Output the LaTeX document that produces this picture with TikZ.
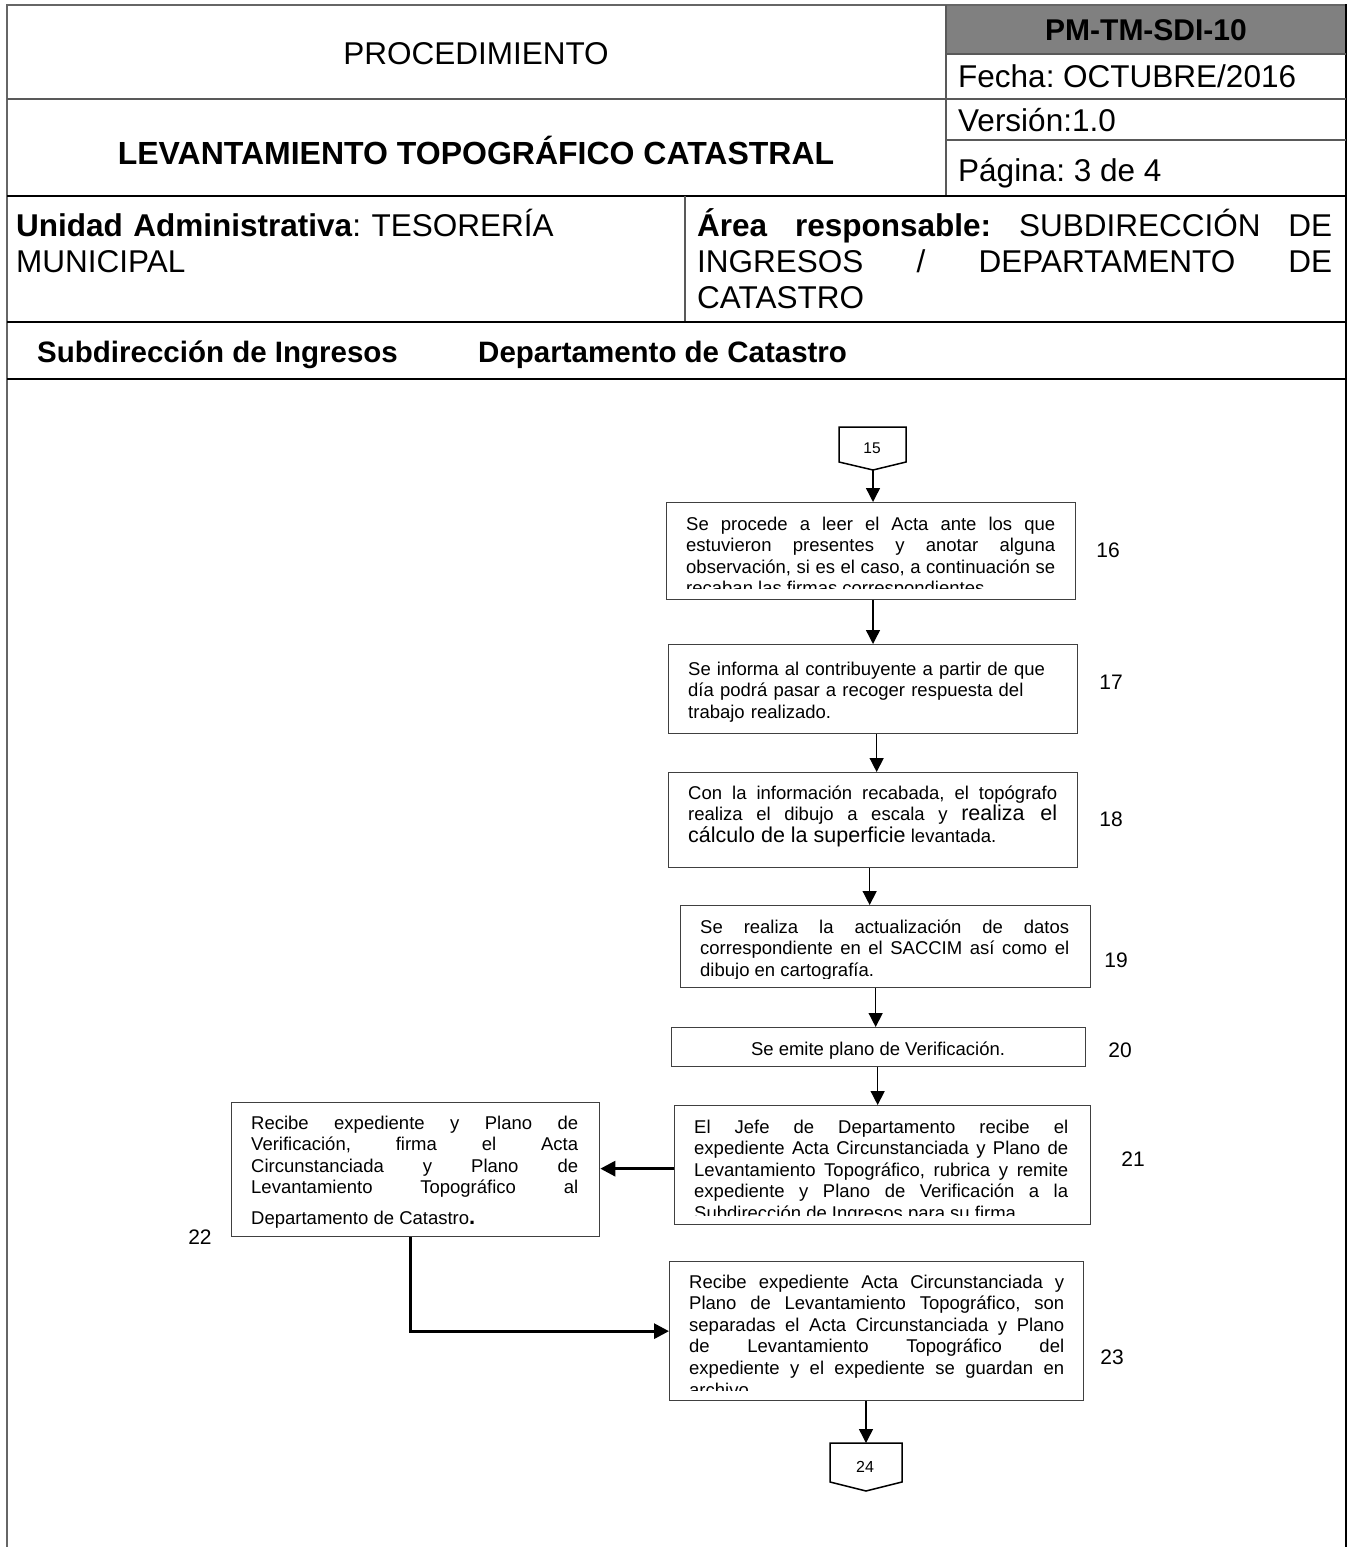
\documentclass[tikz,border=0pt]{standalone}
\usepackage{fontspec}
\setmainfont{Liberation Sans}
\usetikzlibrary{arrows.meta}
\begin{document}
\frenchspacing
\tolerance=9999 \hyphenpenalty=10000 \exhyphenpenalty=10000
\begin{tikzpicture}[x=1pt,y=-1pt,
  frame/.style={line width=2pt, draw=black!60},
  rulethick/.style={line width=2.6pt, draw=black},
  rulethin/.style={line width=1.6pt, draw=black!65},
  box/.style={draw=black!75, line width=1.3pt, inner sep=0pt, anchor=north west},
  body/.style={inner sep=0pt, anchor=base west, align=justify, font=\fontsize{18.5}{21.6}\selectfont},
  bodyl/.style={inner sep=0pt, anchor=base west, align=left, font=\fontsize{18.5}{21.6}\selectfont},
  lbl/.style={inner sep=0pt, font=\fontsize{21}{21}\selectfont},
  hdr/.style={inner sep=0pt, font=\fontsize{31.5}{36}\selectfont},
  conn/.style={draw=black, line width=1.5pt, line join=miter},
  ctext/.style={inner sep=0pt, font=\fontsize{15.5}{16}\selectfont},
  arr/.style={line width=1.4pt, -{Triangle[length=14pt,width=14pt]}},
  tarr/.style={line width=3pt, -{Triangle[length=15pt,width=15pt]}},
]
\useasboundingbox (0,0) rectangle (1349,1547);

% ---------- header frame ----------
\fill[black!50] (946,5) rectangle (1346,54);
\draw[frame] (7,1547) -- (7,5) -- (1346,5);
\draw[line width=2.6pt] (1346,4) -- (1346,1547);
\draw[rulethin] (946,5) -- (946,196);
\draw[rulethin] (946,54) -- (1346,54);
\draw[rulethin] (7,99) -- (1346,99);
\draw[rulethin] (946,140) -- (1346,140);
\draw[rulethick] (7,196) -- (1346,196);
\draw[rulethin] (685,196) -- (685,322);
\draw[rulethick] (7,322) -- (1346,322);
\draw[rulethick] (7,379) -- (1346,379);

\node[hdr] (hproc) at (476,54) {PROCEDIMIENTO};
\node[hdr, font=\fontsize{32}{36}\selectfont\bfseries] (hlev) at (476,150) {LEVANTAMIENTO TOPOGRÁFICO CATASTRAL};
\node[hdr, font=\fontsize{30}{36}\selectfont\bfseries] (hcode) at (1146,30) {PM-TM-SDI-10};
\node[hdr, anchor=base west] (hfecha) at (958,87) {Fecha: OCTUBRE/2016};
\node[hdr, anchor=base west] (hver) at (958,131) {Versión:1.0};
\node[hdr, anchor=base west] (hpag) at (958,181) {Página: 3 de 4};

\node[hdr, anchor=base west, text width=660pt, align=left] (hunit) at (16,236)
  {\textbf{Unidad Administrativa}: TESORERÍA\\MUNICIPAL};
\node[hdr, anchor=base west, text width=635pt, align=justify] (harea) at (697,236)
  {\textbf{Área responsable:} SUBDIRECCIÓN DE\linebreak INGRESOS / DEPARTAMENTO DE\linebreak CATASTRO};

\node[hdr, anchor=base west, font=\fontsize{29.5}{36}\selectfont\bfseries] (lane1) at (37,362) {Subdirección de Ingresos};
\node[hdr, anchor=base west, font=\fontsize{29.5}{36}\selectfont\bfseries] (lane2) at (478,362) {Departamento de Catastro};

% ---------- connector 15 ----------
\draw[conn] (839,427) -- (906,427) -- (906,462) -- (873,470) -- (839,462) -- cycle;
\begin{scope}
  \clip (841,429) rectangle (904,455);
  \node[ctext] (c15) at (872,448) {15};
\end{scope}
\coordinate (p15) at (873,470);

% ---------- boxes ----------
\node[box, minimum width=409pt, minimum height=97pt] (b16) at (666,502) {};
\begin{scope}
  \clip (666,502) rectangle (1075,588);
  \node[body, text width=369pt] (t16) at (686,530)
   {Se procede a leer el Acta ante los que\linebreak estuvieron presentes y anotar alguna\linebreak observación, si es el caso, a continuación se\linebreak recaban las firmas correspondientes.};
\end{scope}
\node[lbl] (l16) at (1108,550) {16};

\node[box, minimum width=409pt, minimum height=89pt] (b17) at (668,644) {};
\node[bodyl, text width=385pt] (t17) at (688,675)
  {Se informa al contribuyente a partir de que\\día podrá pasar a recoger respuesta del\\trabajo realizado.};
\node[lbl] (l17) at (1111,682) {17};

\node[box, minimum width=409pt, minimum height=95pt] (b18) at (668,772) {};
\node[body, text width=369pt] (t18) at (688,799)
  {Con la información recabada, el topógrafo\linebreak realiza el dibujo a escala y {\fontsize{21.5}{21.6}\selectfont realiza el}\linebreak {\fontsize{21.5}{21.6}\selectfont cálculo de la superficie} levantada.};
\node[lbl] (l18) at (1111,819) {18};

\node[box, minimum width=410pt, minimum height=82pt] (b19) at (680,905) {};
\begin{scope}
  \clip (680,905) rectangle (1090,978);
  \node[body, text width=369pt] (t19) at (700,933)
   {Se realiza la actualización de datos\linebreak correspondiente en el SACCIM así como el\linebreak dibujo en cartografía.};
\end{scope}
\node[lbl] (l19) at (1116,960) {19};

\node[box, minimum width=414pt, minimum height=39pt] (b20) at (671,1027) {};
\node[inner sep=0pt, anchor=base, font=\fontsize{18.5}{21.6}\selectfont] (t20) at (878,1055) {Se emite plano de Verificación.};
\node[lbl] (l20) at (1120,1050) {20};

\node[box, minimum width=416pt, minimum height=119pt] (b21) at (674,1105) {};
\begin{scope}
  \clip (674,1105) rectangle (1090,1215);
  \node[body, text width=374pt] (t21) at (694,1133)
   {El Jefe de Departamento recibe el\linebreak expediente Acta Circunstanciada y Plano de\linebreak Levantamiento Topográfico, rubrica y remite\linebreak expediente y Plano de Verificación a la\linebreak Subdirección de Ingresos para su firma.};
\end{scope}
\node[lbl] (l21) at (1133,1159) {21};

\node[box, minimum width=368pt, minimum height=134pt] (b22) at (231,1102) {};
\node[body, text width=327pt] (t22) at (251,1129)
  {Recibe expediente y Plano de\linebreak Verificación, firma el Acta\linebreak Circunstanciada y Plano de\linebreak Levantamiento Topográfico al\linebreak \rule{0pt}{26pt}Departamento de Catastro{\bfseries\fontsize{22}{22}\selectfont.}};
\node[lbl] (l22) at (200,1237) {22};

\node[box, minimum width=414pt, minimum height=139pt] (b23) at (669,1261) {};
\begin{scope}
  \clip (669,1261) rectangle (1083,1390);
  \node[body, text width=375pt] (t23) at (689,1288)
   {Recibe expediente Acta Circunstanciada y\linebreak Plano de Levantamiento Topográfico, son\linebreak separadas el Acta Circunstanciada y Plano\linebreak de Levantamiento Topográfico del\linebreak expediente y el expediente se guardan en\linebreak archivo.};
\end{scope}
\node[lbl] (l23) at (1112,1357) {23};

% ---------- connector 24 ----------
\draw[conn] (830,1443) -- (902,1443) -- (902,1482) -- (866,1491) -- (830,1482) -- cycle;
\node[ctext, font=\fontsize{16}{16}\selectfont] (c24) at (865,1467) {24};
\coordinate (t24) at (866,1443);

% ---------- arrows ----------
\draw[arr] (p15) -- (p15 |- b16.north);
\draw[arr] (b16.south -| p15) -- (b17.north -| p15);
\draw[arr] ([xshift=3.5pt]b17.south) -- ([xshift=3.5pt]b17.south |- b18.north);
\draw[arr] ([xshift=-3.5pt]b18.south) -- ([xshift=-3.5pt]b18.south |- b19.north);
\draw[arr] ([xshift=-10pt]b19.south) -- ([xshift=-10pt]b19.south |- b20.north);
\draw[arr] ([xshift=-1pt]b20.south) -- ([xshift=-1pt]b20.south |- b21.north);
\draw[tarr] ([yshift=-3.5pt]b21.west) -- ([yshift=-3.5pt]b21.west -| b22.east);
\draw[tarr] ([xshift=-5pt]b22.south) |- (b23.west);
\draw[arr] (b23.south -| t24) -- (t24);
\end{tikzpicture}
\end{document}
